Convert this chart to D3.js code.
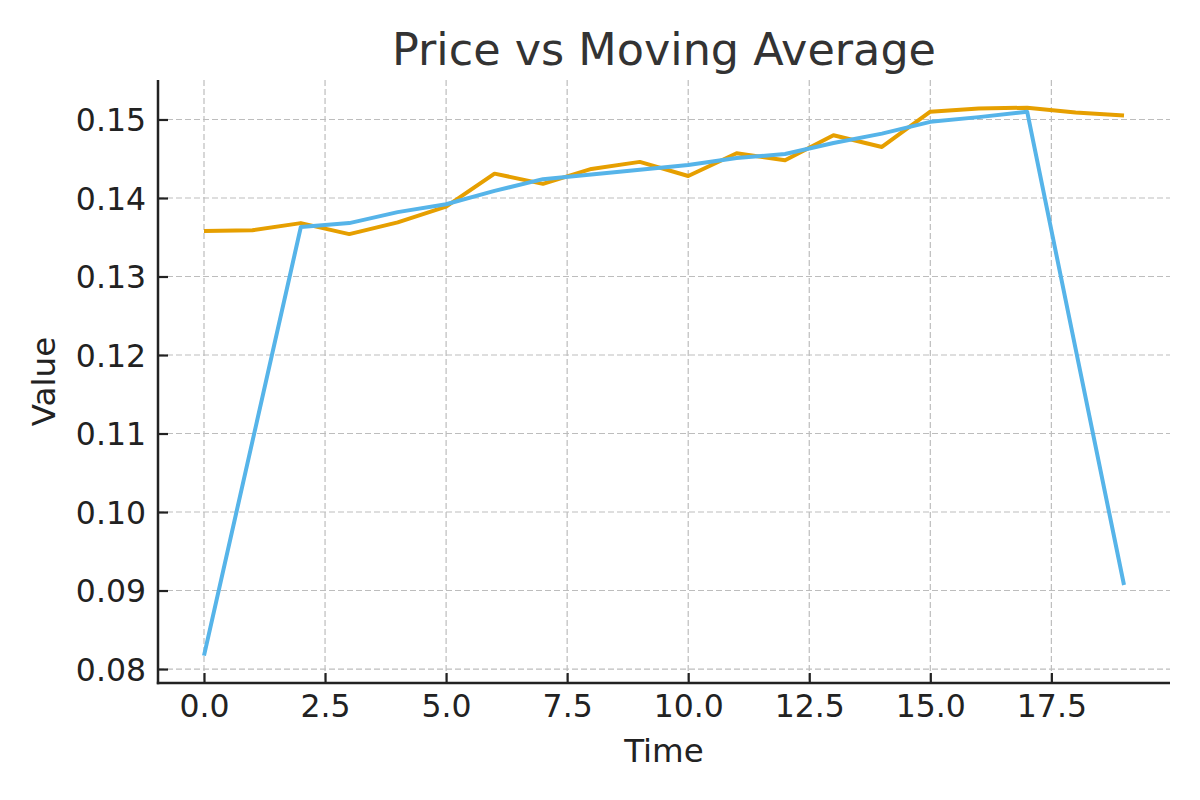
<!DOCTYPE html>
<html><head><meta charset="utf-8">
<script src="https://cdn.jsdelivr.net/npm/d3@7"></script>
<style>html,body{margin:0;padding:0;background:#fff;}</style>
</head><body>
<svg id="chart" width="1200" height="800"></svg>
<script>
const time = d3.range(20);
const price = [0.1358, 0.1359, 0.1368, 0.1354, 0.1369, 0.1389, 0.1431, 0.1418, 0.1437, 0.1446, 0.1428, 0.1457, 0.1448, 0.1480, 0.1465, 0.1510, 0.1514, 0.1515, 0.1509, 0.1505];
const movingAvg = [0.0817, 0.1090, 0.1363, 0.1368, 0.1382, 0.1392, 0.1409, 0.1424, 0.1430, 0.1436, 0.1442, 0.1451, 0.1456, 0.1470, 0.1482, 0.1497, 0.1503, 0.1510, 0.1208, 0.0907];
const xTicks = [0, 2.5, 5, 7.5, 10, 12.5, 15, 17.5];
const yTicks = [0.08, 0.09, 0.10, 0.11, 0.12, 0.13, 0.14, 0.15];

const svg = d3.select("#chart");
const L = 158, R = 1170, T = 80, B = 683;
const x = d3.scaleLinear().domain([-0.95, 19.95]).range([L, R]);
const y = d3.scaleLinear().domain([0.07822, 0.15503]).range([B, T]);
const font = "DejaVu Sans, sans-serif";

// grid
const grid = svg.append("g");
grid.selectAll(".gx").data(xTicks).enter().append("line")
  .attr("x1", d => x(d)).attr("x2", d => x(d)).attr("y1", T).attr("y2", B)
  .attr("stroke", "#bdbdbd").attr("stroke-width", 1.2).attr("stroke-dasharray", "6,3");
grid.selectAll(".gy").data(yTicks).enter().append("line")
  .attr("x1", L).attr("x2", R).attr("y1", d => y(d)).attr("y2", d => y(d))
  .attr("stroke", "#bdbdbd").attr("stroke-width", 1.2).attr("stroke-dasharray", "6,3");

// axes
const xAxis = d3.axisBottom(x).tickValues(xTicks).tickFormat(d3.format(".1f")).tickSizeInner(-10).tickSizeOuter(0).tickPadding(12);
const yAxis = d3.axisLeft(y).tickValues(yTicks).tickFormat(d3.format(".2f")).tickSizeInner(-10).tickSizeOuter(0).tickPadding(12);
const gx = svg.append("g").attr("transform", `translate(0,${B})`).call(xAxis);
const gy = svg.append("g").attr("transform", `translate(${L},0)`).call(yAxis);
[gx, gy].forEach(g => {
  g.select(".domain").remove();
  g.selectAll(".tick line").attr("stroke", "#222").attr("stroke-width", 2.2);
  g.selectAll(".tick text").attr("fill", "#222").style("font-family", font).style("font-size", "31.5px");
});
gx.selectAll(".tick text").attr("dy", "0.71em");
gy.selectAll(".tick text").attr("dy", "0.36em");
svg.append("line").attr("x1", L).attr("x2", L).attr("y1", T).attr("y2", B + 1.2)
  .attr("stroke", "#222").attr("stroke-width", 2.5);
svg.append("line").attr("x1", L - 1.2).attr("x2", R).attr("y1", B).attr("y2", B)
  .attr("stroke", "#222").attr("stroke-width", 2.5);

// lines
const line = d3.line().x((d, i) => x(time[i])).y(d => y(d));
svg.append("path").datum(price).attr("d", line)
  .attr("fill", "none").attr("stroke", "#E69F00").attr("stroke-width", 4).attr("stroke-linejoin", "round");
svg.append("path").datum(movingAvg).attr("d", line)
  .attr("fill", "none").attr("stroke", "#56B4E9").attr("stroke-width", 4).attr("stroke-linejoin", "round");

// labels
svg.append("text").attr("x", 664).attr("y", 65).attr("text-anchor", "middle")
  .style("font-family", font).style("font-size", "44.5px").attr("fill", "#333").text("Price vs Moving Average");
svg.append("text").attr("x", 664).attr("y", 762).attr("text-anchor", "middle")
  .style("font-family", font).style("font-size", "32.5px").attr("fill", "#222").text("Time");
svg.append("text").attr("transform", `translate(55,${(T + B) / 2}) rotate(-90)`).attr("text-anchor", "middle")
  .style("font-family", font).style("font-size", "32.5px").attr("fill", "#222").text("Value");
</script>
</body></html>
